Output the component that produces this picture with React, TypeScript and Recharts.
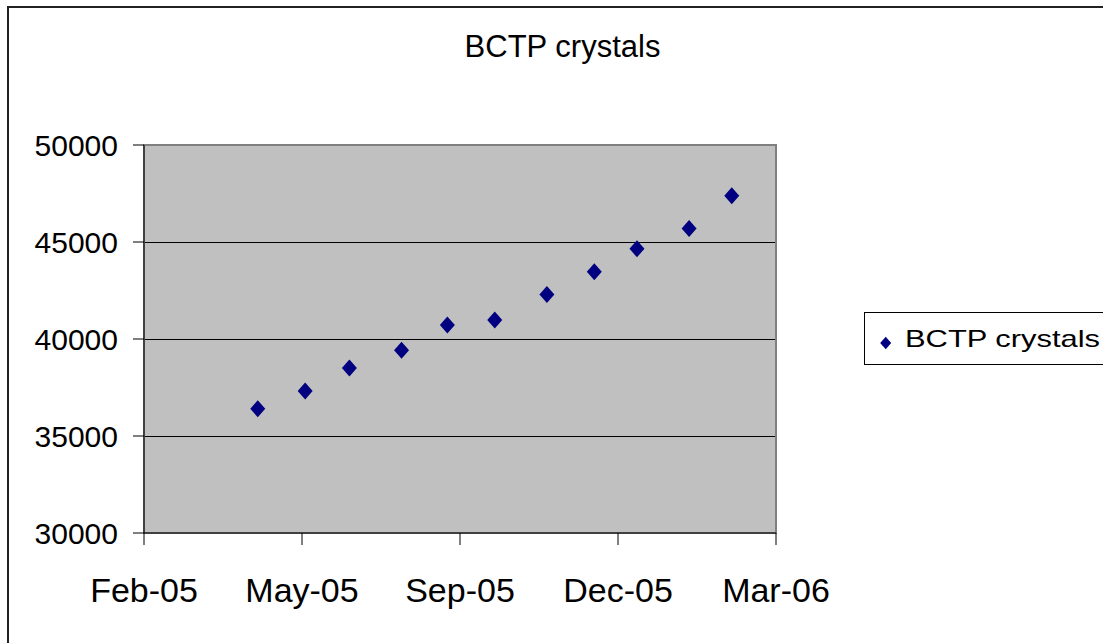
import React from "react";
import {
  ScatterChart,
  Scatter,
  XAxis,
  YAxis,
  CartesianGrid,
  ReferenceArea,
} from "recharts";

// Data
const dates = [
  "2005-04-30",
  "2005-05-30",
  "2005-06-27",
  "2005-07-30",
  "2005-08-28",
  "2005-09-27",
  "2005-10-30",
  "2005-11-29",
  "2005-12-26",
  "2006-01-28",
  "2006-02-24",
];
const crystals = [36410, 37320, 38510, 39420, 40720, 40980, 42300, 43470, 44650, 45690, 47390];

const xTickDates = ["2005-02-17", "2005-05-28", "2005-09-05", "2005-12-14", "2006-03-24"];
const yTicks = [30000, 35000, 40000, 45000, 50000];
const seriesName = "BCTP crystals";
const title = "BCTP crystals";
const monthNames = ["Jan", "Feb", "Mar", "Apr", "May", "Jun", "Jul", "Aug", "Sep", "Oct", "Nov", "Dec"];

const toMs = (s: string) => Date.parse(s + "T00:00:00Z");
const data = dates.map((d, i) => ({ x: toMs(d), y: crystals[i] }));
const xTicks = xTickDates.map(toMs);

const fmtDate = (v: number) => {
  const d = new Date(v);
  const yy = String(d.getUTCFullYear() % 100).padStart(2, "0");
  return `${monthNames[d.getUTCMonth()]}-${yy}`;
};

const FONT = "'Liberation Sans', Arial, Helvetica, sans-serif";
const MARK = "#000080";

const Diamond = (props: any) => {
  const { cx, cy } = props;
  if (cx == null || cy == null) return null;
  const hw = 7.5;
  const hh = 8.5;
  return (
    <polygon
      points={`${cx},${cy - hh} ${cx + hw},${cy} ${cx},${cy + hh} ${cx - hw},${cy}`}
      fill={MARK}
    />
  );
};

export default function App() {
  return (
    <div
      style={{
        position: "absolute",
        left: 0,
        top: 0,
        width: 1103,
        height: 643,
        overflow: "hidden",
        background: "#fff",
      }}
    >
      <div style={{ position: "absolute", left: 0, top: 0 }}>
        <ScatterChart
          width={1103}
          height={643}
          margin={{ top: 145, right: 327, left: 0, bottom: 0 }}
        >
          <CartesianGrid
            vertical={false}
            horizontal={true}
            stroke="#000"
            strokeWidth={1}
            fill="#C0C0C0"
            fillOpacity={1}
            shapeRendering="crispEdges"
          />
          <ReferenceArea
            x1={xTicks[0]}
            x2={xTicks[xTicks.length - 1]}
            y1={30000}
            y2={50000}
            fill="none"
            stroke="#808080"
            strokeWidth={2}
            ifOverflow="visible"
          />
          <XAxis
            type="number"
            dataKey="x"
            domain={[xTicks[0], xTicks[xTicks.length - 1]]}
            ticks={xTicks}
            tickFormatter={fmtDate}
            height={110}
            stroke="#000"
            tickSize={12}
            tickMargin={33}
            interval={0}
            allowDataOverflow
            tick={{ fill: "#000", fontSize: 34, fontFamily: FONT }}
          />
          <YAxis
            type="number"
            dataKey="y"
            domain={[30000, 50000]}
            ticks={yTicks}
            width={144}
            stroke="#000"
            tickSize={11}
            tickMargin={15}
            interval={0}
            allowDataOverflow
            tick={{ fill: "#000", fontSize: 30, fontFamily: FONT }}
          />
          <Scatter
            name={seriesName}
            data={data}
            fill={MARK}
            shape={<Diamond />}
            isAnimationActive={false}
          />
        </ScatterChart>
      </div>
      <svg
        width={1103}
        height={643}
        style={{ position: "absolute", left: 0, top: 0, pointerEvents: "none" }}
      >
        <rect x={8} y={7} width={1200} height={700} fill="none" stroke="#222" strokeWidth={2} />
        <text
          x={562.5}
          y={57}
          textAnchor="middle"
          fontSize={31}
          fontFamily={FONT}
          fill="#000"
        >
          {title}
        </text>
        <g transform="translate(864,312)">
          <rect x={0.5} y={0.5} width={300} height={52} fill="#fff" stroke="#000" strokeWidth={1} />
          <polygon points="21.7,24.8 27.2,31 21.7,37.2 16.2,31" fill={MARK} />
          <text
            x={41}
            y={35.3}
            fontSize={24}
            fontFamily={FONT}
            fill="#000"
            textLength={195}
            lengthAdjust="spacingAndGlyphs"
          >
            {seriesName}
          </text>
        </g>
      </svg>
    </div>
  );
}
